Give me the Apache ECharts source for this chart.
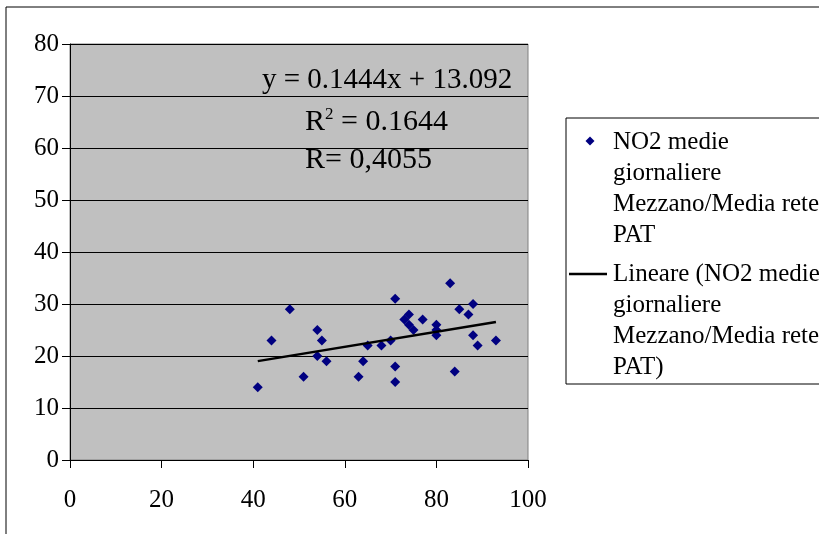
<!DOCTYPE html>
<html>
<head>
<meta charset="utf-8">
<script src="https://cdn.jsdelivr.net/npm/echarts@6/dist/echarts.min.js"></script>
<style>
  html, body { margin: 0; padding: 0; background: #fff; }
  #chart { width: 819px; height: 534px; }
</style>
</head>
<body>
<div id="chart"></div>
<script>
const xValues = [41, 44, 48, 51, 54, 55, 54, 56, 63, 64, 65, 68, 70, 71, 71, 71, 73, 74, 74, 75, 77, 80, 80, 80, 83, 84, 85, 87, 88, 88, 89, 93];
const yValues = [14, 23, 29, 16, 25, 23, 20, 19, 16, 19, 22, 22, 23, 31, 18, 15, 27, 28, 26, 25, 27, 26, 25, 24, 34, 17, 29, 28, 30, 24, 22, 23];
const trendSlope = 0.1444;
const trendIntercept = 13.092;
const trendRange = [41, 93];
const scatterName = 'NO2 medie giornaliere Mezzano/Media rete PAT';
const trendName = 'Lineare (NO2 medie giornaliere Mezzano/Media rete PAT)';

const FONT = '"Liberation Serif", "DejaVu Serif", serif';

const scatterData = xValues.map((x, i) => [x, yValues[i]]);
const trendData = trendRange.map((x) => [x, trendSlope * x + trendIntercept]);

const chart = echarts.init(document.getElementById('chart'));

const option = {
  animation: false,
  backgroundColor: '#fff',
  textStyle: { fontFamily: FONT },
  grid: { left: 70, top: 44, right: 291, bottom: 74, show: true, backgroundColor: '#c0c0c0', borderColor: '#808080', borderWidth: 1 },
  xAxis: {
    type: 'value',
    min: 0,
    max: 100,
    interval: 20,
    axisLine: { show: true, onZero: false, lineStyle: { color: '#000', width: 1 } },
    axisTick: { show: true, length: 8, lineStyle: { color: '#000' } },
    axisLabel: { color: '#000', fontFamily: FONT, fontSize: 25, margin: 28 },
    splitLine: { show: false },
  },
  yAxis: {
    type: 'value',
    min: 0,
    max: 80,
    interval: 10,
    axisLine: { show: true, onZero: false, lineStyle: { color: '#000', width: 1 } },
    axisTick: { show: true, length: 8, lineStyle: { color: '#000' } },
    axisLabel: { color: '#000', fontFamily: FONT, fontSize: 25, margin: 11 },
    splitLine: { show: true, lineStyle: { color: '#000', width: 1 } },
  },
  series: [
    {
      name: scatterName,
      type: 'scatter',
      data: scatterData,
      symbol: 'diamond',
      symbolSize: 10,
      itemStyle: { color: '#000080', opacity: 1 },
      z: 3,
    },
    {
      name: trendName,
      type: 'line',
      data: trendData,
      symbol: 'none',
      lineStyle: { color: '#000', width: 2.5 },
      z: 4,
    },
  ],
  graphic: [
    // outer chart frame
    { type: 'rect', shape: { x: 6, y: 7, width: 830, height: 540 }, style: { fill: 'none', stroke: '#000', lineWidth: 1 }, silent: true },
    // trend equation
    { type: 'text', x: 262, y: 80, style: { text: 'y = 0.1444x + 13.092', font: '29px ' + FONT, fill: '#000', verticalAlign: 'middle' } },
    {
      type: 'text', x: 305, y: 122,
      style: {
        text: '{b|R}{s|2}{b| = 0.1644}',
        verticalAlign: 'middle',
        rich: {
          b: { font: '30px ' + FONT, fill: '#000', verticalAlign: 'bottom' },
          s: { font: '17px ' + FONT, fill: '#000', verticalAlign: 'top', padding: [0, 0, 14, 0] },
        },
      },
    },
    { type: 'text', x: 305, y: 160, style: { text: 'R= 0,4055', font: '30px ' + FONT, fill: '#000', verticalAlign: 'middle' } },
    // legend
    { type: 'rect', shape: { x: 566, y: 118, width: 270, height: 266 }, style: { fill: '#fff', stroke: '#000', lineWidth: 1 }, silent: true },
    { type: 'polygon', shape: { points: [[590, 136.5], [594.5, 141], [590, 145.5], [585.5, 141]] }, style: { fill: '#000080' } },
    { type: 'text', x: 613, y: 127, style: { text: 'NO2 medie\ngiornaliere\nMezzano/Media rete\nPAT', font: '25px ' + FONT, fill: '#000', lineHeight: 31 } },
    { type: 'line', shape: { x1: 569, y1: 274, x2: 607, y2: 274 }, style: { stroke: '#000', lineWidth: 2.5 } },
    { type: 'text', x: 613, y: 259, style: { text: 'Lineare (NO2 medie\ngiornaliere\nMezzano/Media rete\nPAT)', font: '25px ' + FONT, fill: '#000', lineHeight: 31 } },
  ],
};

chart.setOption(option);
</script>
</body>
</html>
